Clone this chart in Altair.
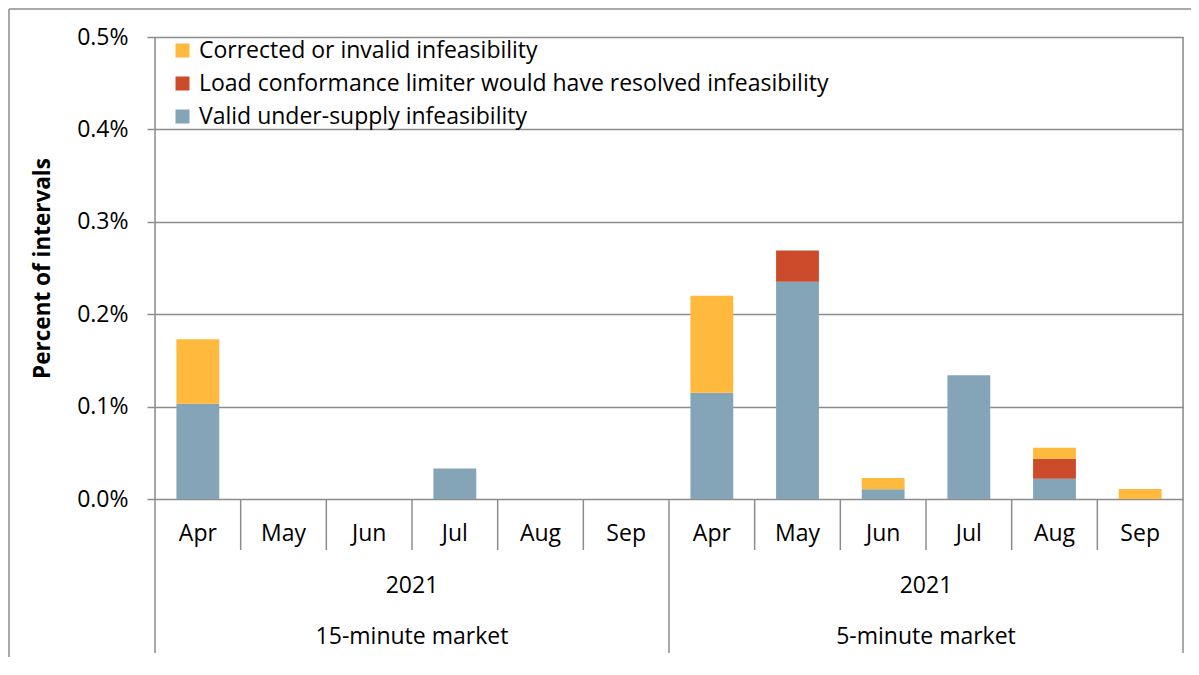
import altair as alt
import pandas as pd

months = ["Apr", "May", "Jun", "Jul", "Aug", "Sep"]
markets = ["15-minute market", "5-minute market"]
year_label = "2021"
series = [
    "Corrected or invalid infeasibility",
    "Load conformance limiter would have resolved infeasibility",
    "Valid under-supply infeasibility",
]
colors = ["#FFB93C", "#CB4B2B", "#84A5B8"]

# values as fractions (0.001 = 0.1%), 15-minute Apr..Sep then 5-minute Apr..Sep
valid = [0.00103, 0, 0, 0.00033, 0, 0, 0.00115, 0.00235, 0.000105, 0.00134, 0.00022, 0]
load = [0, 0, 0, 0, 0, 0, 0, 0.00034, 0, 0, 0.000216, 0]
corrected = [0.00070, 0, 0, 0, 0, 0, 0.00105, 0, 0.000122, 0, 0.000119, 0.000108]

W, H = 1028, 462
FONT = "Open Sans"
GRAY = "#8c8c8c"
FS = 23

rows = []
for i in range(12):
    for order, (name, vals) in enumerate([(series[2], valid), (series[1], load), (series[0], corrected)]):
        rows.append({"idx": i, "series": name, "order": order, "value": vals[i]})
bars_df = pd.DataFrame(rows)

month_df = pd.DataFrame({"idx": list(range(12)), "label": months * 2})
group_df = pd.DataFrame({"idx": [0, 6], "market": markets, "year": [year_label, year_label]})
edge_df = pd.DataFrame({"pos": [0, 12]})
mid_df = pd.DataFrame({"pos": [6]})
sep_df = pd.DataFrame({"pos": [1, 2, 3, 4, 5, 7, 8, 9, 10, 11]})
frame_df = pd.DataFrame({"k": [0]})

xscale = alt.Scale(domain=[0, 12], nice=False, zero=False)
yscale = alt.Scale(domain=[0, 0.005], nice=False)

bars = (
    alt.Chart(bars_df)
    .transform_stack(stack="value", groupby=["idx"], as_=["y0", "y1"],
                     sort=[alt.SortField("order", order="ascending")])
    .transform_filter("datum.value > 0")
    .transform_calculate(x0="datum.idx + 0.25", x1="datum.idx + 0.75")
    .mark_bar()
    .encode(
        x=alt.X("x0:Q", scale=xscale, axis=None),
        x2="x1:Q",
        y=alt.Y(
            "y0:Q",
            scale=yscale,
            axis=alt.Axis(
                values=[0, 0.001, 0.002, 0.003, 0.004, 0.005],
                format=".1%",
                title="Percent of intervals",
                titleFont=FONT,
                titleFontSize=22.5,
                titleFontWeight="bold",
                titleColor="black",
                titlePadding=22,
                labelFont=FONT,
                labelFontSize=FS,
                labelColor="black",
                labelPadding=19,
                tickSize=8,
                tickColor=GRAY,
                tickWidth=1.5,
                domain=False,
                grid=True,
                gridColor=GRAY,
                gridWidth=1.5,
            ),
        ),
        y2="y1:Q",
        color=alt.Color(
            "series:N",
            scale=alt.Scale(domain=series, range=colors),
            legend=alt.Legend(
                title=None,
                orient="none",
                legendX=16,
                legendY=2,
                padding=0,
                symbolType="square",
                symbolSize=196,
                symbolStrokeWidth=0,
                symbolOpacity=1,
                labelFont=FONT,
                labelFontSize=FS,
                labelColor="black",
                labelOffset=5,
                rowPadding=9,
                labelLimit=800,
            ),
        ),
    )
)

edge_rules = alt.Chart(edge_df).mark_rule(color=GRAY, strokeWidth=1.5).encode(
    x=alt.X("pos:Q", scale=xscale), y=alt.value(0), y2=alt.value(H + 154)
)
mid_rule = alt.Chart(mid_df).mark_rule(color=GRAY, strokeWidth=1.5).encode(
    x=alt.X("pos:Q", scale=xscale), y=alt.value(H), y2=alt.value(H + 154)
)
sep_rules = alt.Chart(sep_df).mark_rule(color=GRAY, strokeWidth=1.5).encode(
    x=alt.X("pos:Q", scale=xscale), y=alt.value(H), y2=alt.value(H + 51)
)

month_text = (
    alt.Chart(month_df)
    .transform_calculate(xc="datum.idx + 0.5")
    .mark_text(font=FONT, fontSize=FS, color="black", baseline="middle", align="center")
    .encode(x=alt.X("xc:Q", scale=xscale), y=alt.value(H + 35), text="label:N")
)
year_text = (
    alt.Chart(group_df)
    .transform_calculate(xc="datum.idx + 3")
    .mark_text(font=FONT, fontSize=FS, color="black", baseline="middle", align="center")
    .encode(x=alt.X("xc:Q", scale=xscale), y=alt.value(H + 87), text="year:N")
)
market_text = (
    alt.Chart(group_df)
    .transform_calculate(xc="datum.idx + 3")
    .mark_text(font=FONT, fontSize=FS, color="black", baseline="middle", align="center")
    .encode(x=alt.X("xc:Q", scale=xscale), y=alt.value(H + 138), text="market:N")
)

frame_left = alt.Chart(frame_df).mark_rule(color=GRAY, strokeWidth=1.5).encode(
    x=alt.value(-146), y=alt.value(-28), y2=alt.value(H + 170)
)
frame_top = alt.Chart(frame_df).mark_rule(color=GRAY, strokeWidth=1.5).encode(
    y=alt.value(-28), x=alt.value(-146), x2=alt.value(W + 10)
)

chart = (
    alt.layer(bars, edge_rules, mid_rule, sep_rules, month_text, year_text, market_text,
              frame_left, frame_top)
    .properties(
        width=W,
        height=H,
        autosize=alt.AutoSizeParams(type="none"),
        padding={"left": 147, "top": 29, "right": 8, "bottom": 158},
    )
    .configure_view(stroke=None)
    .configure(background="white")
)

chart.save("out.html", embed_options={"renderer": "svg", "actions": False})
